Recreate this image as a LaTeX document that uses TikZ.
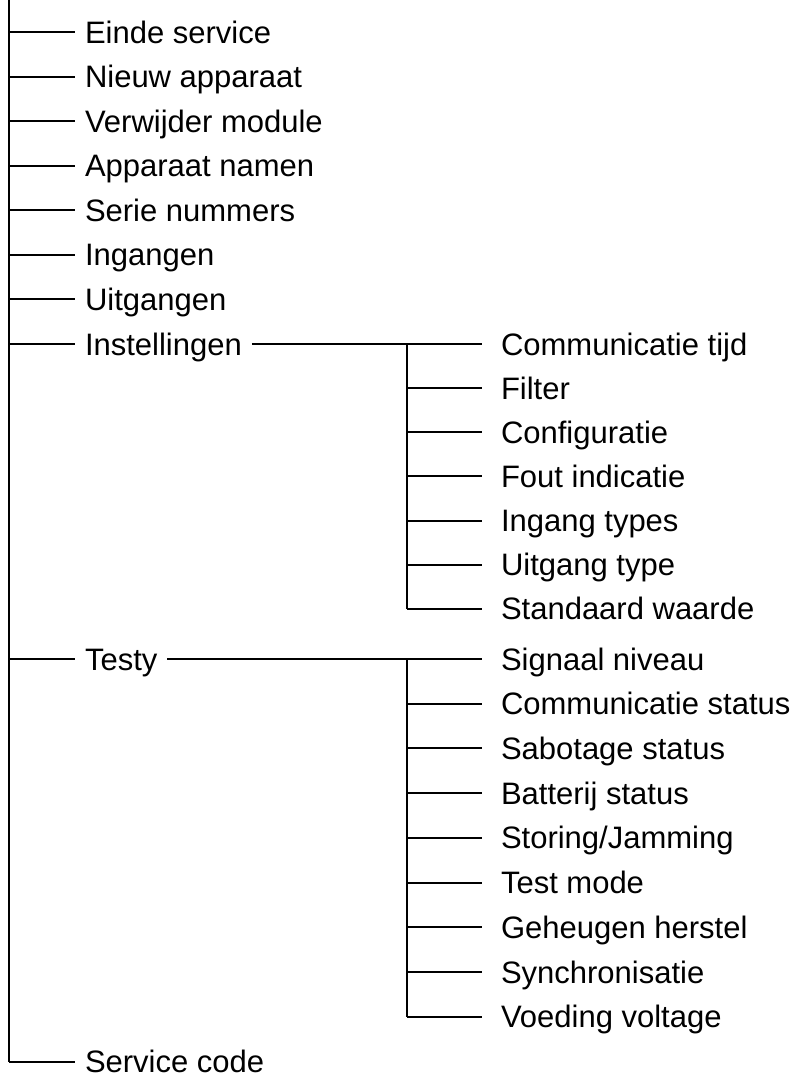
\documentclass[tikz,border=0pt]{standalone}
\usepackage{fontspec}
\setmainfont{Liberation Sans}
\begin{document}
\begin{tikzpicture}[x=1pt,y=-1pt,line width=2pt,
  lbl/.style={anchor=base west,inner xsep=9pt,inner ysep=0pt,font=\fontsize{31}{31}\selectfont},
  sublbl/.style={lbl,inner xsep=18pt},
  conn/.style={draw=black,line width=2pt}]
\useasboundingbox (0,0) rectangle (800,1074);
% main column
\coordinate (top) at (8.5,0);
\foreach \n/\y/\t in {m1/32/Einde service,m2/76.6/Nieuw apparaat,m3/121.1/Verwijder module,m4/165.7/Apparaat namen,m5/210.3/Serie nummers,m6/254.9/Ingangen,m7/299.4/Uitgangen,m8/344/Instellingen,m9/659/Testy,m10/1061.7/Service code}{
  \coordinate (c\n) at (8.5,\y);
  \node[lbl] (\n) at (75,\y+11) {\t};
  \draw[conn] (c\n) -- (c\n -| \n.west);
}
\draw[conn] (top) -- (cm10);
% Instellingen submenu
\foreach \n/\y/\t in {a1/344/Communicatie tijd,a2/388.1/Filter,a3/432.2/Configuratie,a4/476.4/Fout indicatie,a5/520.5/Ingang types,a6/564.6/Uitgang type,a7/608.7/Standaard waarde}{
  \coordinate (c\n) at (407,\y);
  \node[sublbl] (\n) at (482,\y+11) {\t};
  \draw[conn] (c\n) -- (c\n -| \n.west);
}
\draw[conn] (ca1) -- (ca7);
\draw[conn] (cm8 -| m8.east) -- (ca1);
% Testy submenu
\foreach \n/\y/\t in {b1/659/Signaal niveau,b2/703.7/Communicatie status,b3/748.4/Sabotage status,b4/793.1/Batterij status,b5/837.9/{Storing/Jamming},b6/882.6/Test mode,b7/927.3/Geheugen herstel,b8/972/Synchronisatie,b9/1016.7/Voeding voltage}{
  \coordinate (c\n) at (407,\y);
  \node[sublbl] (\n) at (482,\y+11) {\t};
  \draw[conn] (c\n) -- (c\n -| \n.west);
}
\draw[conn] (cb1) -- (cb9);
\draw[conn] (cm9 -| m9.east) -- (cb1);
\end{tikzpicture}
\end{document}
